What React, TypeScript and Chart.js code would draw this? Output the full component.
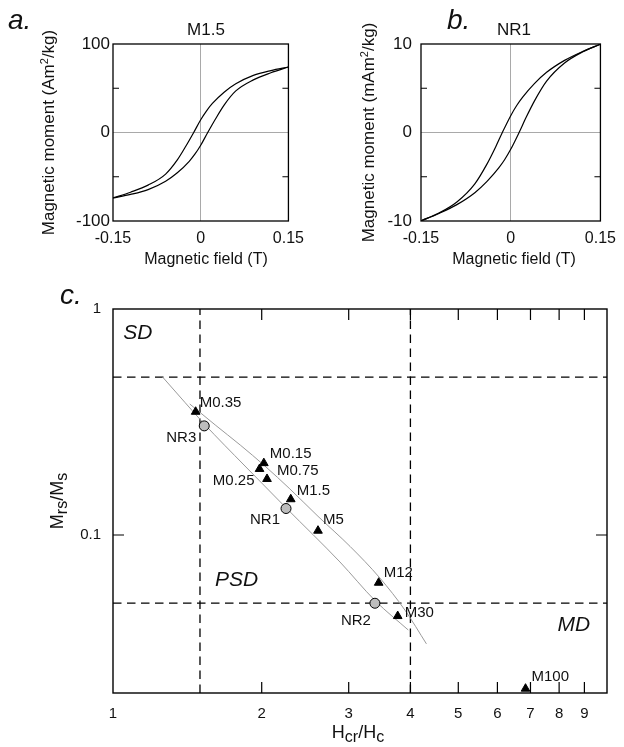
import React, { useEffect, useRef } from 'react';
import { Chart, registerables } from 'chart.js';

Chart.register(...registerables);

const FONT = '"Liberation Sans", Arial, Helvetica, sans-serif';
const INK = '#111';

// ---------- Panel a: M1.5 hysteresis loop (field in T, moment in Am2/kg) ----------
const fieldA_upper = [-0.15, -0.12, -0.09, -0.06, -0.04, -0.025, -0.012, 0, 0.01, 0.02, 0.04, 0.06, 0.09, 0.12, 0.15];
const momentA_upper = [-74, -67.5, -59.5, -47, -31, -15, 0, 14.4, 24.5, 32.8, 45.5, 55, 64.5, 70, 74];
const fieldA_lower = [-0.15, -0.12, -0.09, -0.06, -0.04, -0.02, -0.01, 0, 0.012, 0.025, 0.04, 0.06, 0.09, 0.12, 0.15];
const momentA_lower = [-74, -70, -64.5, -55, -45.5, -32.8, -24.5, -14.4, 0, 15, 31, 47, 59.5, 67.5, 74];
const yTicksA = [-100, 0, 100];
const yTickLabelsA = ['-100', '0', '100'];
const yMinorA = [-50, 50];

// ---------- Panel b: NR1 hysteresis loop (field in T, moment in mAm2/kg) ----------
const fieldB_upper = [-0.15, -0.12, -0.09, -0.06, -0.04, -0.025, -0.014, 0, 0.01, 0.02, 0.04, 0.06, 0.09, 0.12, 0.15];
const momentB_upper = [-9.98, -9.1, -7.85, -5.8, -3.6, -1.6, 0, 1.9, 3.05, 4.0, 5.55, 6.8, 8.15, 9.15, 9.98];
const fieldB_lower = [-0.15, -0.12, -0.09, -0.06, -0.04, -0.02, -0.01, 0, 0.014, 0.025, 0.04, 0.06, 0.09, 0.12, 0.15];
const momentB_lower = [-9.98, -9.15, -8.15, -6.8, -5.55, -4.0, -3.05, -1.9, 0, 1.6, 3.6, 5.8, 7.85, 9.1, 9.98];
const yTicksB = [-10, 0, 10];
const yTickLabelsB = ['-10', '0', '10'];
const yMinorB = [-5, 5];

const xTicksAB = [-0.15, 0, 0.15];
const xTickLabelsAB = ['-0.15', '0', '0.15'];

// ---------- Panel c: Day plot ----------
const mSampleNames = ['M0.35', 'M0.15', 'M0.25', 'M0.75', 'M1.5', 'M5', 'M12', 'M30', 'M100'];
const mHcrHc = [1.47, 2.02, 1.98, 2.05, 2.29, 2.6, 3.45, 3.77, 6.84];
const mMrsMs = [0.351, 0.208, 0.196, 0.177, 0.144, 0.1045, 0.0615, 0.0438, 0.0209];
const nrSampleNames = ['NR3', 'NR1', 'NR2'];
const nrHcrHc = [1.53, 2.24, 3.39];
const nrMrsMs = [0.304, 0.131, 0.0499];
const mixUpperHcr = [1.43, 1.61, 1.81, 2.03, 2.28, 2.6, 3.02, 3.47, 3.9, 4.31];
const mixUpperMrs = [0.38, 0.307, 0.25, 0.202, 0.16, 0.121, 0.089, 0.0645, 0.0465, 0.033];
const mixLowerHcr = [1.26, 1.4, 1.53, 1.85, 2.24, 2.88, 3.4, 3.96];
const mixLowerMrs = [0.5, 0.385, 0.31, 0.202, 0.132, 0.076, 0.051, 0.038];
const sdHcrLimit = 1.5;
const mdHcrLimit = 4;
const sdMrsLimit = 0.5;
const mdMrsLimit = 0.05;
const cXMin = 1;
const cXMax = 10;
const cYMin = 0.02;
const cYMax = 1;
const xTicksC = [1, 2, 3, 4, 5, 6, 7, 8, 9];
const xTickLabelsC = ['1', '2', '3', '4', '5', '6', '7', '8', '9'];
const xMinorC = [2, 3, 4, 5, 6, 7, 8, 9];
const yTicksC = [0.1, 1];
const yTickLabelsC = ['0.1', '1'];
const yMinorC = [0.1];
const domainNames = ['SD', 'PSD', 'MD'];
const domainHcr = [1.049, 1.609, 7.94];
const domainMrs = [0.739, 0.0594, 0.0377];

// label placement (pixel offsets from the marker, alignment)
const mLabelOffsets: [number, number, CanvasTextAlign][] = [
  [4, -5, 'left'], [6, -5, 'left'], [-5, 16, 'right'], [10, -4, 'left'], [6, -4, 'left'],
  [5, -7, 'left'], [5, -6, 'left'], [7, 1, 'left'], [6, -8, 'left'],
];
const nrLabelOffsets: [number, number, CanvasTextAlign][] = [
  [-8, 16, 'right'], [-6, 15, 'right'], [-4, 22, 'right'],
];

type Part = { t: string; size: number; dy?: number; italic?: boolean };
type TextItem = { parts: Part[]; x: number; y: number; align: 'left' | 'center' | 'right'; rotate?: number };
type DataLabel = { x: number; y: number; text: string; dx: number; dy: number; align: CanvasTextAlign; size: number; italic?: boolean };

function fontOf(p: Part) {
  return `${p.italic ? 'italic ' : ''}${p.size}px ${FONT}`;
}

function drawParts(ctx: CanvasRenderingContext2D, item: TextItem) {
  ctx.save();
  ctx.translate(item.x, item.y);
  if (item.rotate) ctx.rotate(item.rotate);
  ctx.textBaseline = 'alphabetic';
  ctx.textAlign = 'left';
  ctx.fillStyle = INK;
  let total = 0;
  const widths = item.parts.map((p) => {
    ctx.font = fontOf(p);
    const w = ctx.measureText(p.t).width;
    total += w;
    return w;
  });
  let cx = item.align === 'center' ? -total / 2 : item.align === 'right' ? -total : 0;
  item.parts.forEach((p, i) => {
    ctx.font = fontOf(p);
    ctx.fillText(p.t, cx, p.dy || 0);
    cx += widths[i];
  });
  ctx.restore();
}

type DecorCfg = {
  xMinor: number[];
  yMinor: number[];
  tickLen: number;
  frameWidth: number;
  texts: TextItem[];
  labels: DataLabel[];
};

function decorPlugin(cfg: DecorCfg) {
  return {
    id: 'decor',
    afterDatasetsDraw(chart: any) {
      const { ctx, chartArea: a, scales } = chart;
      ctx.save();
      ctx.strokeStyle = '#000';
      ctx.lineWidth = 1.2;
      ctx.beginPath();
      for (const v of cfg.xMinor) {
        const px = scales.x.getPixelForValue(v);
        ctx.moveTo(px, a.bottom);
        ctx.lineTo(px, a.bottom - cfg.tickLen);
        ctx.moveTo(px, a.top);
        ctx.lineTo(px, a.top + cfg.tickLen);
      }
      for (const v of cfg.yMinor) {
        const py = scales.y.getPixelForValue(v);
        ctx.moveTo(a.left, py);
        ctx.lineTo(a.left + cfg.tickLen, py);
        ctx.moveTo(a.right, py);
        ctx.lineTo(a.right - cfg.tickLen, py);
      }
      ctx.stroke();
      ctx.lineWidth = cfg.frameWidth;
      ctx.strokeRect(a.left, a.top, a.right - a.left, a.bottom - a.top);
      ctx.restore();

      for (const t of cfg.texts) drawParts(ctx, t);

      ctx.save();
      ctx.fillStyle = INK;
      ctx.textBaseline = 'alphabetic';
      for (const l of cfg.labels) {
        ctx.font = `${l.italic ? 'italic ' : ''}${l.size}px ${FONT}`;
        ctx.textAlign = l.align;
        const px = scales.x.getPixelForValue(l.x) + l.dx;
        const py = scales.y.getPixelForValue(l.y) + l.dy;
        ctx.fillText(l.text, px, py);
      }
      ctx.restore();
    },
  };
}

const tickFont = { family: FONT, size: 15 };

function zeroGrid(ctx: any) {
  return ctx.tick && ctx.tick.value === 0 ? '#a9a9a9' : 'rgba(0,0,0,0)';
}

function loopConfig(o: {
  ux: number[]; uy: number[]; lx: number[]; ly: number[];
  yTicks: number[]; yLabels: string[]; yMinor: number[]; yMax: number;
  yWidth: number; padRight: number; yPad: number;
  letter: string; letterX: number; title: string; yTitle: Part[]; yTitleX: number;
}) {
  const cx = (o.yWidth + (312 - o.padRight)) / 2;
  const line = (xs: number[], ys: number[]) => ({
    data: xs.map((x, i) => ({ x, y: ys[i] })),
    showLine: true,
    borderColor: '#000',
    borderWidth: 1.2,
    pointRadius: 0,
    cubicInterpolationMode: 'monotone',
  });
  return {
    type: 'scatter',
    data: { datasets: [line(o.ux, o.uy), line(o.lx, o.ly)] },
    options: {
      responsive: false,
      animation: false,
      devicePixelRatio: 1,
      events: [],
      layout: { padding: { top: 44, right: o.padRight, left: 0, bottom: 0 } },
      plugins: { legend: { display: false }, tooltip: { enabled: false }, title: { display: false } },
      scales: {
        x: {
          type: 'linear',
          min: -0.15,
          max: 0.15,
          afterBuildTicks: (s: any) => { s.ticks = xTicksAB.map((value) => ({ value })); },
          afterFit: (s: any) => { s.height = 54; },
          ticks: { callback: (_v: any, i: number) => xTickLabelsAB[i], font: { family: FONT, size: 16 }, color: INK, padding: 8, maxRotation: 0, autoSkip: false },
          grid: { color: zeroGrid, drawTicks: false, lineWidth: 1 },
          border: { display: false },
        },
        y: {
          type: 'linear',
          min: -o.yMax,
          max: o.yMax,
          afterBuildTicks: (s: any) => { s.ticks = o.yTicks.map((value) => ({ value })); },
          afterFit: (s: any) => { s.width = o.yWidth; },
          ticks: { callback: (_v: any, i: number) => o.yLabels[i], font: { family: FONT, size: 17 }, color: INK, padding: o.yPad, autoSkip: false },
          grid: { color: zeroGrid, drawTicks: false, lineWidth: 1 },
          border: { display: false },
        },
      },
    },
    plugins: [
      decorPlugin({
        xMinor: [],
        yMinor: o.yMinor,
        tickLen: 6,
        frameWidth: 1.3,
        labels: [],
        texts: [
          { parts: [{ t: o.letter, size: 28, italic: true }], x: o.letterX, y: 29, align: 'left' },
          { parts: [{ t: o.title, size: 17 }], x: cx, y: 35, align: 'center' },
          { parts: [{ t: 'Magnetic field (T)', size: 16 }], x: cx, y: 264, align: 'center' },
          { parts: o.yTitle, x: o.yTitleX, y: 132.5, align: 'center', rotate: -Math.PI / 2 },
        ],
      }),
    ],
  } as any;
}

function dayConfig() {
  const pts = (xs: number[], ys: number[]) => xs.map((x, i) => ({ x, y: ys[i] }));
  const dashed = (data: { x: number; y: number }[]) => ({
    data,
    showLine: true,
    borderColor: '#000',
    borderWidth: 1.3,
    borderDash: [8.5, 5.5],
    pointRadius: 0,
  });
  const grayCurve = (xs: number[], ys: number[]) => ({
    data: pts(xs, ys),
    showLine: true,
    borderColor: '#9a9a9a',
    borderWidth: 1,
    pointRadius: 0,
    cubicInterpolationMode: 'monotone',
  });
  const labels: DataLabel[] = [];
  mSampleNames.forEach((n, i) => labels.push({ x: mHcrHc[i], y: mMrsMs[i], text: n, dx: mLabelOffsets[i][0], dy: mLabelOffsets[i][1], align: mLabelOffsets[i][2], size: 15 }));
  nrSampleNames.forEach((n, i) => labels.push({ x: nrHcrHc[i], y: nrMrsMs[i], text: n, dx: nrLabelOffsets[i][0], dy: nrLabelOffsets[i][1], align: nrLabelOffsets[i][2], size: 15 }));
  domainNames.forEach((n, i) => labels.push({ x: domainHcr[i], y: domainMrs[i], text: n, dx: 0, dy: 0, align: 'left', size: 21, italic: true }));

  return {
    type: 'scatter',
    data: {
      datasets: [
        {
          data: pts(mHcrHc, mMrsMs),
          pointStyle: 'triangle',
          pointRadius: 5,
          backgroundColor: '#000',
          borderColor: '#000',
          borderWidth: 1,
        },
        {
          data: pts(nrHcrHc, nrMrsMs),
          pointStyle: 'circle',
          pointRadius: 5,
          backgroundColor: '#bdbdbd',
          borderColor: '#000',
          borderWidth: 1,
        },
        grayCurve(mixUpperHcr, mixUpperMrs),
        grayCurve(mixLowerHcr, mixLowerMrs),
        dashed([{ x: sdHcrLimit, y: cYMin }, { x: sdHcrLimit, y: cYMax }]),
        dashed([{ x: mdHcrLimit, y: cYMin }, { x: mdHcrLimit, y: cYMax }]),
        dashed([{ x: cXMin, y: sdMrsLimit }, { x: cXMax, y: sdMrsLimit }]),
        dashed([{ x: cXMin, y: mdMrsLimit }, { x: cXMax, y: mdMrsLimit }]),
      ],
    },
    options: {
      responsive: false,
      animation: false,
      devicePixelRatio: 1,
      events: [],
      layout: { padding: { top: 34, right: 17, left: 0, bottom: 0 } },
      plugins: { legend: { display: false }, tooltip: { enabled: false }, title: { display: false } },
      scales: {
        x: {
          type: 'logarithmic',
          min: cXMin,
          max: cXMax,
          afterBuildTicks: (s: any) => { s.ticks = xTicksC.map((value) => ({ value })); },
          afterFit: (s: any) => { s.height = 54; },
          ticks: { callback: (_v: any, i: number) => xTickLabelsC[i], font: tickFont, color: INK, padding: 12, maxRotation: 0, autoSkip: false },
          grid: { display: false, drawTicks: false },
          border: { display: false },
        },
        y: {
          type: 'logarithmic',
          min: cYMin,
          max: cYMax,
          afterBuildTicks: (s: any) => { s.ticks = yTicksC.map((value) => ({ value })); },
          afterFit: (s: any) => { s.width = 113; },
          ticks: { callback: (_v: any, i: number) => yTickLabelsC[i], font: tickFont, color: INK, padding: 12, autoSkip: false },
          grid: { display: false, drawTicks: false },
          border: { display: false },
        },
      },
    },
    plugins: [
      decorPlugin({
        xMinor: xMinorC,
        yMinor: yMinorC,
        tickLen: 11,
        frameWidth: 1.4,
        labels,
        texts: [
          { parts: [{ t: 'c.', size: 28, italic: true }], x: 60, y: 29, align: 'left' },
          {
            parts: [{ t: 'H', size: 18 }, { t: 'cr', size: 16, dy: 4 }, { t: '/H', size: 18 }, { t: 'c', size: 16, dy: 4 }],
            x: 358, y: 463, align: 'center',
          },
          {
            parts: [{ t: 'M', size: 18 }, { t: 'rs', size: 16, dy: 4 }, { t: '/M', size: 18 }, { t: 's', size: 16, dy: 4 }],
            x: 63, y: 226, align: 'center', rotate: -Math.PI / 2,
          },
        ],
      }),
    ],
  } as any;
}

export default function App() {
  const refA = useRef<HTMLCanvasElement>(null);
  const refB = useRef<HTMLCanvasElement>(null);
  const refC = useRef<HTMLCanvasElement>(null);

  useEffect(() => {
    const charts: Chart[] = [];
    charts.push(new Chart(refA.current as HTMLCanvasElement, loopConfig({
      ux: fieldA_upper, uy: momentA_upper, lx: fieldA_lower, ly: momentA_lower,
      yTicks: yTicksA, yLabels: yTickLabelsA, yMinor: yMinorA, yMax: 100,
      yWidth: 113, padRight: 13, yPad: 3,
      letter: 'a.', letterX: 8, title: 'M1.5',
      yTitle: [{ t: 'Magnetic moment (Am', size: 17 }, { t: '2', size: 11, dy: -6 }, { t: '/kg)', size: 17 }],
      yTitleX: 54,
    })));
    charts.push(new Chart(refB.current as HTMLCanvasElement, loopConfig({
      ux: fieldB_upper, uy: momentB_upper, lx: fieldB_lower, ly: momentB_lower,
      yTicks: yTicksB, yLabels: yTickLabelsB, yMinor: yMinorB, yMax: 10,
      yWidth: 109, padRight: 17, yPad: 9,
      letter: 'b.', letterX: 135, title: 'NR1',
      yTitle: [{ t: 'Magnetic moment (mAm', size: 17 }, { t: '2', size: 11, dy: -6 }, { t: '/kg)', size: 17 }],
      yTitleX: 62,
    })));
    charts.push(new Chart(refC.current as HTMLCanvasElement, dayConfig()));
    return () => charts.forEach((c) => c.destroy());
  }, []);

  return (
    <div style={{ position: 'absolute', left: 0, top: 0, width: 624, height: 747, background: '#fff' }}>
      <canvas ref={refA} width={312} height={275} style={{ position: 'absolute', left: 0, top: 0 }} />
      <canvas ref={refB} width={312} height={275} style={{ position: 'absolute', left: 312, top: 0 }} />
      <canvas ref={refC} width={624} height={472} style={{ position: 'absolute', left: 0, top: 275 }} />
    </div>
  );
}
